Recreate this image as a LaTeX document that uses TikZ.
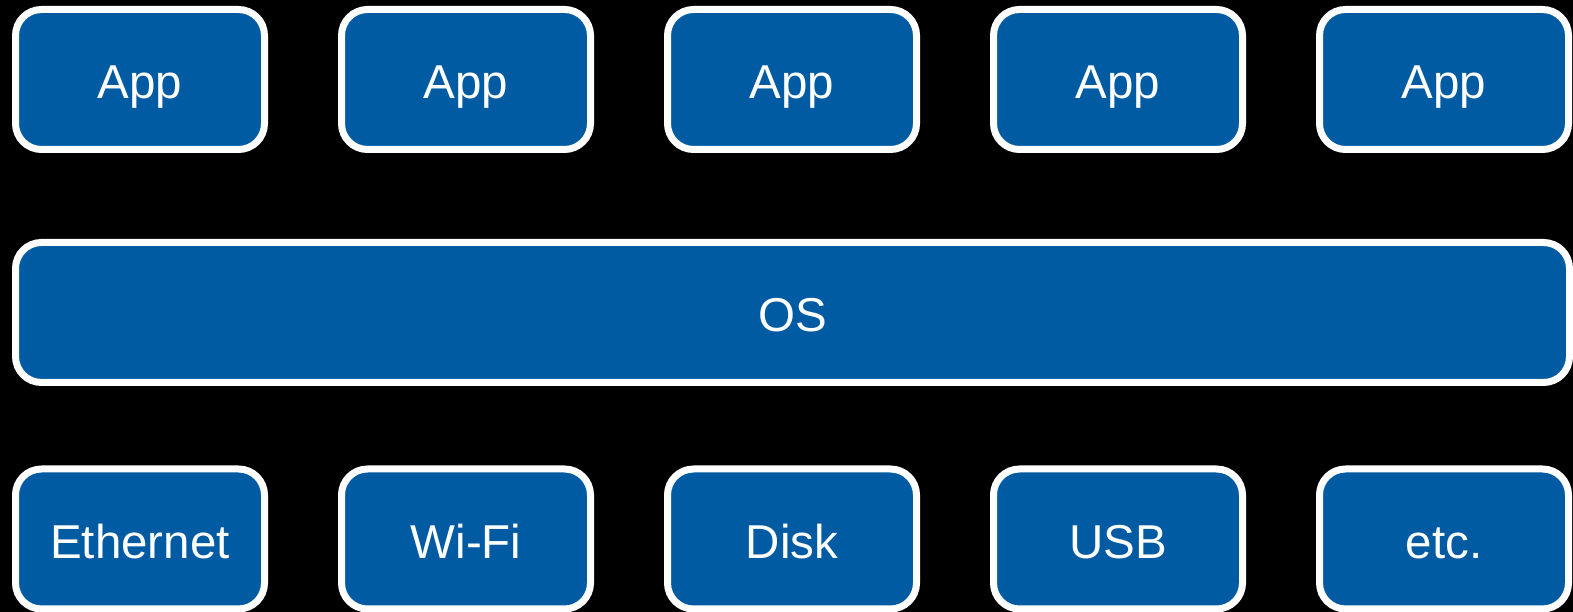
\documentclass[tikz,border=0pt]{standalone}
\usepackage{fontspec}
\setmainfont{Liberation Sans}
\usepackage{tikz}
\usetikzlibrary{positioning}
\definecolor{layerblue}{RGB}{1,91,163}

\begin{document}
\begin{tikzpicture}[
    x=1pt, y=1pt,
    layer/.style={
      draw=white, line width=7pt, rounded corners=26pt,
      fill=layerblue, text=white,
      font=\fontsize{47.5}{57}\selectfont,
      minimum width=249pt, minimum height=140pt,
      text height=39pt, text depth=0pt, inner sep=0pt
    },
    oslayer/.style={layer, minimum width=1554pt}
  ]

  % background
  \fill[black] (0,0) rectangle (1573,612);
  \useasboundingbox (0,0) rectangle (1573,612);

  % Apps
  \node[layer] (app1) at (140,532.5) {App};
  \node[layer] (app2) at (466,532.5) {App};
  \node[layer] (app3) at (792,532.5) {App};
  \node[layer] (app4) at (1118,532.5) {App};
  \node[layer] (app5) at (1444,532.5) {App};

  % OS
  \node[oslayer] (os) at (792.5,299.5) {OS};

  % Devices
  \node[layer] (eth)  at (140,73) {Ethernet};
  \node[layer] (wifi) at (466,73) {Wi-Fi};
  \node[layer] (disk) at (792,73) {Disk};
  \node[layer] (usb)  at (1118,73) {USB};
  \node[layer] (etc)  at (1444,73) {etc.};

\end{tikzpicture}
\end{document}
